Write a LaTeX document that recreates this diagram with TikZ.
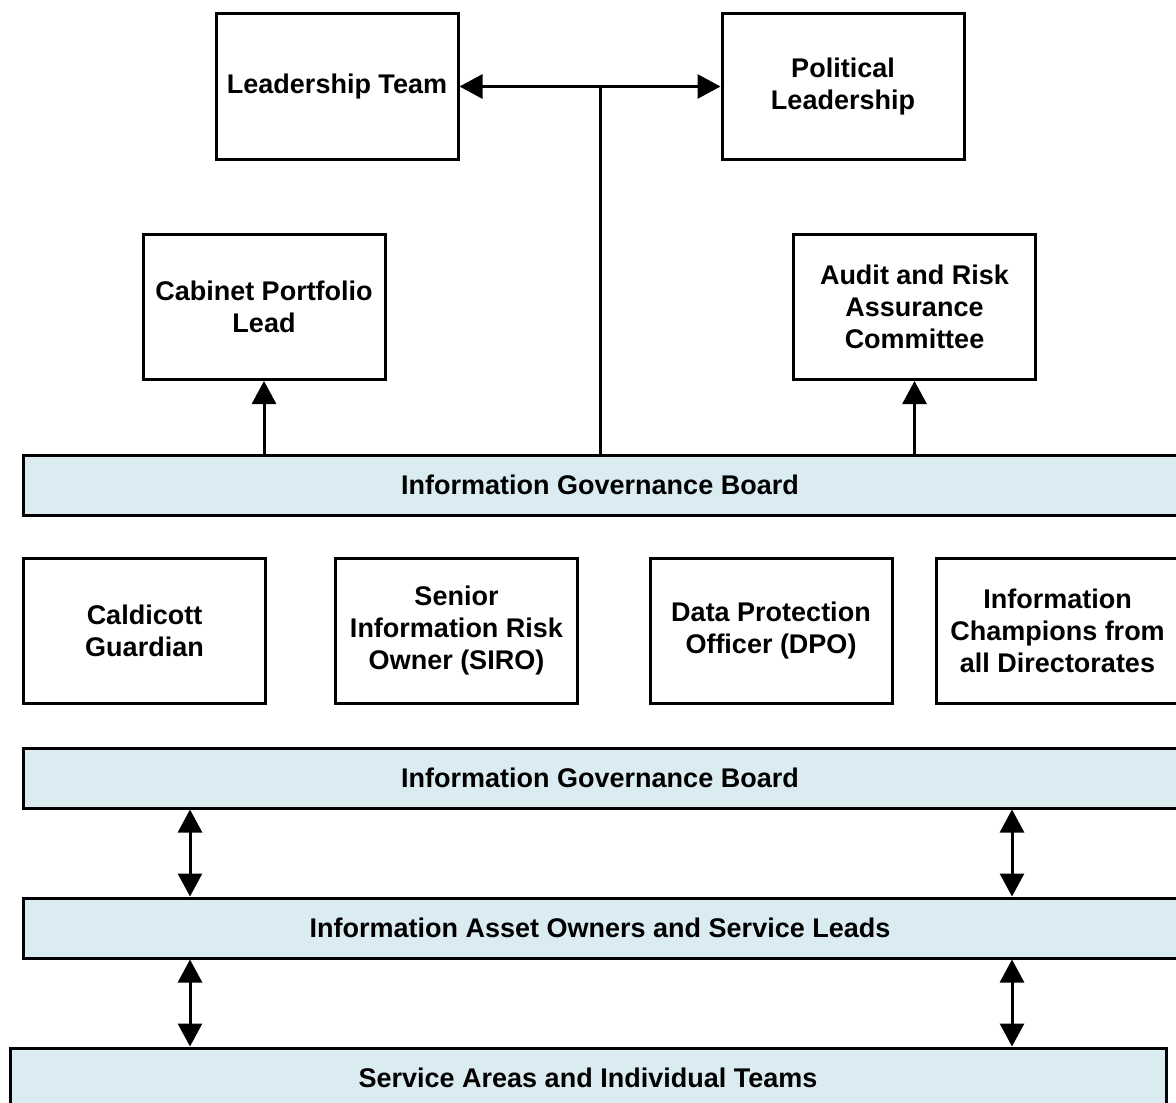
\documentclass[tikz,border=0pt]{standalone}
\usepackage{fontspec}
\setmainfont{Liberation Sans}
\usepackage{xcolor}
\usepackage{tikz}
\usetikzlibrary{arrows.meta, positioning}
\definecolor{barblue}{RGB}{218,236,242}
\tikzset{
    govbox/.style={
        rectangle,
        draw=black,
        line width=1.5pt,
        align=center,
        minimum width=121pt,
        minimum height=72.5pt,
        fill=white,
        font=\bfseries\fontsize{13.5}{16}\selectfont
    },
    govbar/.style={
        rectangle,
        draw=black,
        line width=1.5pt,
        align=center,
        minimum height=30pt,
        fill=barblue,
        font=\bfseries\fontsize{13.5}{16}\selectfont
    },
    govline/.style={
        -{Triangle[length=11.5pt, width=12pt]},
        line width=1.5pt
    },
    govboth/.style={
        {Triangle[length=11.5pt, width=12pt]}-{Triangle[length=11.5pt, width=12pt]},
        line width=1.5pt
    }
}

\begin{document}
\begin{tikzpicture}[x=0.5pt, y=-0.5pt]
    \clip (0,0) rectangle (1176,1102);
    \fill[white] (0,0) rectangle (1176,1102);

    % top level
    \node[govbox] (lead) at (337,86.5) {Leadership Team};
    \node[govbox] (polit) at (843,86.5) {Political\\Leadership};
    \node[govbox] (cabinet) at (264,307) {Cabinet Portfolio\\Lead};
    \node[govbox] (audit) at (914.5,307) {Audit and Risk\\Assurance\\Committee};
    \node[govbar, minimum width=577pt] (igbtop) at (600,485) {Information Governance Board};

    % roles
    \node[govbox] (caldicott) at (144.5,630.5) {Caldicott\\Guardian};
    \node[govbox] (siro) at (456.5,630.5) {Senior\\Information Risk\\Owner (SIRO)};
    \node[govbox] (dpo) at (771,630.5) {Data Protection\\Officer (DPO)};
    \node[govbox] (champions) at (1057.5,630.5) {Information\\Champions from\\all Directorates};

    % lower bars
    \node[govbar, minimum width=577pt] (igbmid) at (600,778) {Information Governance Board};
    \node[govbar, minimum width=577pt] (assets) at (600,928) {Information Asset Owners and Service Leads};
    \node[govbar, minimum width=578pt] (service) at (588,1078) {Service Areas and Individual Teams};

    \coordinate (hub) at (600,86.5);
    \coordinate (lcol) at (190,0);
    \coordinate (rcol) at (1012,0);

    \draw[line width=1.5pt] (igbtop.north -| hub) -- (hub);
    \draw[govline] (hub) -- (lead);
    \draw[govline] (hub) -- (polit);
    \draw[govline] (igbtop.north -| cabinet) -- (cabinet);
    \draw[govline] (igbtop.north -| audit) -- (audit);

    \draw[govboth] (igbmid.south -| lcol) -- (assets.north -| lcol);
    \draw[govboth] (igbmid.south -| rcol) -- (assets.north -| rcol);
    \draw[govboth] (assets.south -| lcol) -- (service.north -| lcol);
    \draw[govboth] (assets.south -| rcol) -- (service.north -| rcol);
\end{tikzpicture}
\end{document}
